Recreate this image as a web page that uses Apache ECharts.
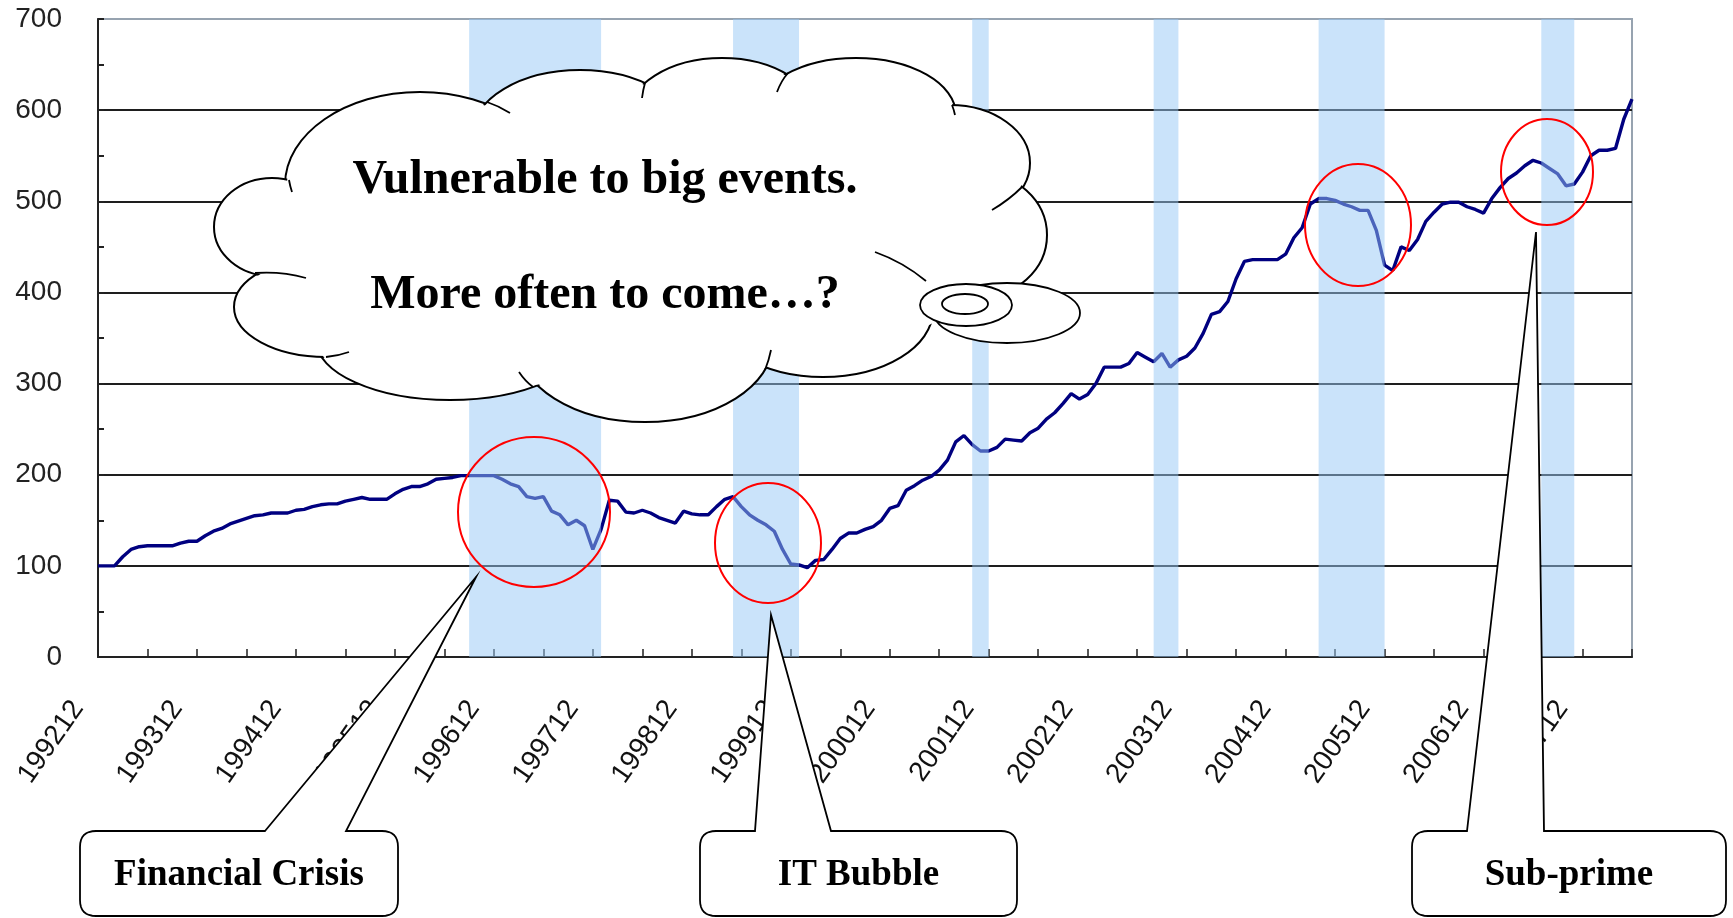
<!DOCTYPE html>
<html>
<head>
<meta charset="utf-8">
<title>Vulnerable to big events</title>
<script src="https://cdn.jsdelivr.net/npm/echarts@6.0.0/dist/echarts.min.js"></script>
<style>
    html, body { margin: 0; padding: 0; background: #fff; }
    #chart { width: 1733px; height: 918px; }
</style>
</head>
<body>
<div id="chart"></div>
<script>
    // monthly index, 1992.12 = 100
    var startYear = 1992, startMonth = 12, monthCount = 187
    var months = []
    for (var k = 0; k < monthCount; k++) {
        var m = startMonth - 1 + k
        var y = startYear + Math.floor(m / 12)
        var mm = (m % 12) + 1
        months.push('' + y + (mm < 10 ? '0' + mm : mm))
    }

    var indexValues = [
        100, 100, 100, 110, 118, 121, 122, 122, 122, 122, 125, 127,
        127, 133, 138, 141, 146, 149, 152, 155, 156, 158, 158, 158,
        161, 162, 165, 167, 168, 168, 171, 173, 175, 173, 173, 173,
        179, 184, 187, 187, 190, 195, 196, 197, 199, 199, 199, 199,
        199, 195, 190, 187, 176, 174, 176, 160, 156, 145, 150, 144,
        118, 140, 172, 171, 159, 158, 161, 158, 153, 150, 147, 160,
        157, 156, 156, 165, 173, 176, 165, 156, 150, 145, 138, 118,
        102, 101, 98, 106, 107, 118, 130, 136, 136, 140, 143, 150,
        163, 166, 183, 188, 194, 198, 205, 216, 236, 243, 233, 226,
        226, 230, 239, 238, 237, 246, 251, 261, 268, 278, 289, 283,
        288, 300, 318, 318, 318, 322, 334, 329, 324, 333, 318, 326,
        330, 339, 355, 376, 379, 390, 415, 434, 436, 436, 436, 436,
        442, 460, 471, 497, 503, 503, 501, 497, 494, 490, 490, 468,
        430, 424, 450, 446, 458, 478, 488, 497, 499, 499, 494, 491,
        487, 503, 515, 525, 531, 539, 545, 542, 536, 530, 517, 519,
        532, 550, 556, 556, 558, 590, 612
    ]

    // shaded periods [from, to]
    var bandStarts = ['199609', '199905', '200110', '200308', '200504', '200707']
    var bandEnds   = ['199801', '200001', '200112', '200311', '200512', '200711']

    var yTicks = [0, 100, 200, 300, 400, 500, 600, 700]

    var cloudLines = ['Vulnerable to big events.', 'More often to come\u2026?']
    var calloutNames = ['Financial Crisis', 'IT Bubble', 'Sub-prime']

    var bands = bandStarts.map(function (s, i) {
        return [{ xAxis: s }, { xAxis: bandEnds[i] }]
    })

    // cloud lobes [cx, cy, rx, ry]
    var lobes = [
        [420, 185, 135, 93], [580, 135, 108, 65], [722, 118, 95, 60], [856, 115, 100, 57],
        [950, 163, 80, 58], [977, 235, 70, 63], [823, 310, 110, 67], [645, 342, 128, 80],
        [450, 340, 134, 60], [326, 307, 92, 50], [272, 227, 58, 49]
    ]
    // points where the lobes meet, used to fill the middle
    var cloudJoins = [
        [289, 180], [487, 102], [645, 83], [788, 73], [952, 105], [1022, 187],
        [1018, 283], [932, 327], [765, 370], [533, 387], [326, 357], [255, 273]
    ]
    // little inner hooks of the cloud [x1, y1, cpx, cpy, x2, y2]
    var hooks = [
        [487, 102, 499, 106, 510, 113], [645, 83, 643, 90, 642, 98], [788, 73, 781, 81, 777, 92],
        [952, 105, 954, 110, 955, 115], [1022, 187, 1009, 200, 992, 210], [875, 252, 903, 262, 926, 281],
        [771, 350, 769, 360, 765, 370], [533, 387, 525, 381, 519, 372], [326, 357, 338, 356, 349, 352],
        [255, 273, 281, 271, 306, 278], [289, 180, 290, 186, 292, 192]
    ]

    var graphics = []
    lobes.forEach(function (l) {
        graphics.push({ type: 'ellipse', z: 20, silent: true,
            shape: { cx: l[0], cy: l[1], rx: l[2], ry: l[3] },
            style: { fill: '#fff', stroke: '#000', lineWidth: 2 } })
    })
    lobes.forEach(function (l) {
        graphics.push({ type: 'ellipse', z: 21, silent: true,
            shape: { cx: l[0], cy: l[1], rx: l[2] - 2, ry: l[3] - 2 },
            style: { fill: '#fff' } })
    })
    graphics.push({ type: 'polygon', z: 21, silent: true,
        shape: { points: cloudJoins.map(function (p) {
            return [640 + (p[0] - 640) * 0.985, 240 + (p[1] - 240) * 0.985]
        }) },
        style: { fill: '#fff' } })
    hooks.forEach(function (h) {
        graphics.push({ type: 'bezierCurve', z: 22, silent: true,
            shape: { x1: h[0], y1: h[1], cpx1: h[2], cpy1: h[3], x2: h[4], y2: h[5] },
            style: { fill: 'none', stroke: '#000', lineWidth: 1.8 } })
    })
    // thought bubbles
    graphics.push({ type: 'ellipse', z: 23, shape: { cx: 1007, cy: 313, rx: 73, ry: 30 },
        style: { fill: '#fff', stroke: '#000', lineWidth: 1.8 } })
    graphics.push({ type: 'ellipse', z: 24, shape: { cx: 966, cy: 305, rx: 46, ry: 21 },
        style: { fill: '#fff', stroke: '#000', lineWidth: 1.8 } })
    graphics.push({ type: 'ellipse', z: 25, shape: { cx: 965, cy: 304, rx: 23, ry: 10 },
        style: { fill: '#fff', stroke: '#000', lineWidth: 1.8 } })
    graphics.push({ type: 'text', z: 26, x: 605, y: 181,
        style: { text: cloudLines[0], fontFamily: 'Liberation Serif', fontWeight: 'bold',
            fontSize: 48, fill: '#000', align: 'center', verticalAlign: 'middle' } })
    graphics.push({ type: 'text', z: 26, x: 605, y: 296,
        style: { text: cloudLines[1], fontFamily: 'Liberation Serif', fontWeight: 'bold',
            fontSize: 48, fill: '#000', align: 'center', verticalAlign: 'middle' } })

    // red rings
    var rings = [[534, 512, 76, 75], [768, 543, 53, 60], [1358, 225, 53, 61], [1547, 172, 46, 53]]
    rings.forEach(function (r) {
        graphics.push({ type: 'ellipse', z: 15, silent: true,
            shape: { cx: r[0], cy: r[1], rx: r[2], ry: r[3] },
            style: { fill: 'none', stroke: '#ff0000', lineWidth: 2 } })
    })

    // quadratic corner sampled into points
    function corner(p0, c, p1) {
        var pts = []
        for (var t = 0.125; t <= 1.0001; t += 0.125) {
            var u = 1 - t
            pts.push([u * u * p0[0] + 2 * u * t * c[0] + t * t * p1[0],
                      u * u * p0[1] + 2 * u * t * c[1] + t * t * p1[1]])
        }
        return pts
    }

    // callout boxes: left, right, notch a, notch b, tip x, tip y
    var boxes = [
        [80, 398, 265, 346, 476, 577],
        [700, 1017, 755, 831, 771, 615],
        [1412, 1726, 1467, 1544, 1536, 232]
    ]
    var T = 831, B = 916, rc = 16
    boxes.forEach(function (b, i) {
        var L = b[0], R = b[1]
        var pts = [[b[2], T], [b[4], b[5]], [b[3], T], [R - rc, T]]
        pts = pts.concat(corner([R - rc, T], [R, T], [R, T + rc]))
        pts.push([R, B - rc])
        pts = pts.concat(corner([R, B - rc], [R, B], [R - rc, B]))
        pts.push([L + rc, B])
        pts = pts.concat(corner([L + rc, B], [L, B], [L, B - rc]))
        pts.push([L, T + rc])
        pts = pts.concat(corner([L, T + rc], [L, T], [L + rc, T]))
        graphics.push({ type: 'polygon', z: 15, silent: true, shape: { points: pts },
            style: { fill: '#fff', stroke: '#000', lineWidth: 1.8 } })
        graphics.push({ type: 'text', z: 16, x: (L + R) / 2, y: 875,
            style: { text: calloutNames[i], fontFamily: 'Liberation Serif', fontWeight: 'bold',
                fontSize: 37, fill: '#000', align: 'center', verticalAlign: 'middle' } })
    })

    var myChart = echarts.init(document.getElementById('chart'))
    var option = {
        animation: false,
        backgroundColor: '#fff',
        grid: {
            left: 98, right: 101, top: 19, bottom: 261,
            show: true, borderColor: '#97a3b0', borderWidth: 2
        },
        xAxis: {
            type: 'category',
            data: months,
            boundaryGap: false,
            axisLine: { show: true, lineStyle: { color: '#222', width: 2 } },
            axisTick: {
                show: true, inside: true, length: 8,
                interval: function (idx) { return idx % 6 === 0 },
                lineStyle: { color: '#222', width: 1.5 }
            },
            axisLabel: {
                interval: function (idx) { return idx % 12 === 0 },
                rotate: 55,
                margin: 18,
                padding: [0, 35, 0, 0],
                fontFamily: 'Liberation Sans',
                fontSize: 28,
                color: '#111'
            },
            splitLine: { show: false }
        },
        yAxis: {
            type: 'value',
            min: yTicks[0],
            max: yTicks[yTicks.length - 1],
            interval: 100,
            axisLine: { show: true, lineStyle: { color: '#222', width: 2 } },
            axisTick: { show: true, inside: true, length: 6, lineStyle: { color: '#222', width: 2 } },
            minorTick: { show: true, splitNumber: 2, length: 6, lineStyle: { color: '#222', width: 2 } },
            axisLabel: {
                margin: 36,
                fontFamily: 'Liberation Sans',
                fontSize: 28,
                color: '#222'
            },
            splitLine: {
                show: true, showMinLine: false, showMaxLine: false,
                lineStyle: { color: '#1e1e1e', width: 2 }
            }
        },
        series: [{
            name: 'index',
            type: 'line',
            data: indexValues,
            symbol: 'none',
            z: 2,
            lineStyle: { color: '#000080', width: 3.4 }
        }, {
            name: 'bands',
            type: 'line',
            data: [],
            symbol: 'none',
            z: 5,
            markArea: {
                silent: true,
                z: 5,
                itemStyle: { color: 'rgba(150,200,245,0.5)' },
                data: bands
            }
        }],
        graphic: graphics
    }
    myChart.setOption(option)
</script>
</body>
</html>
